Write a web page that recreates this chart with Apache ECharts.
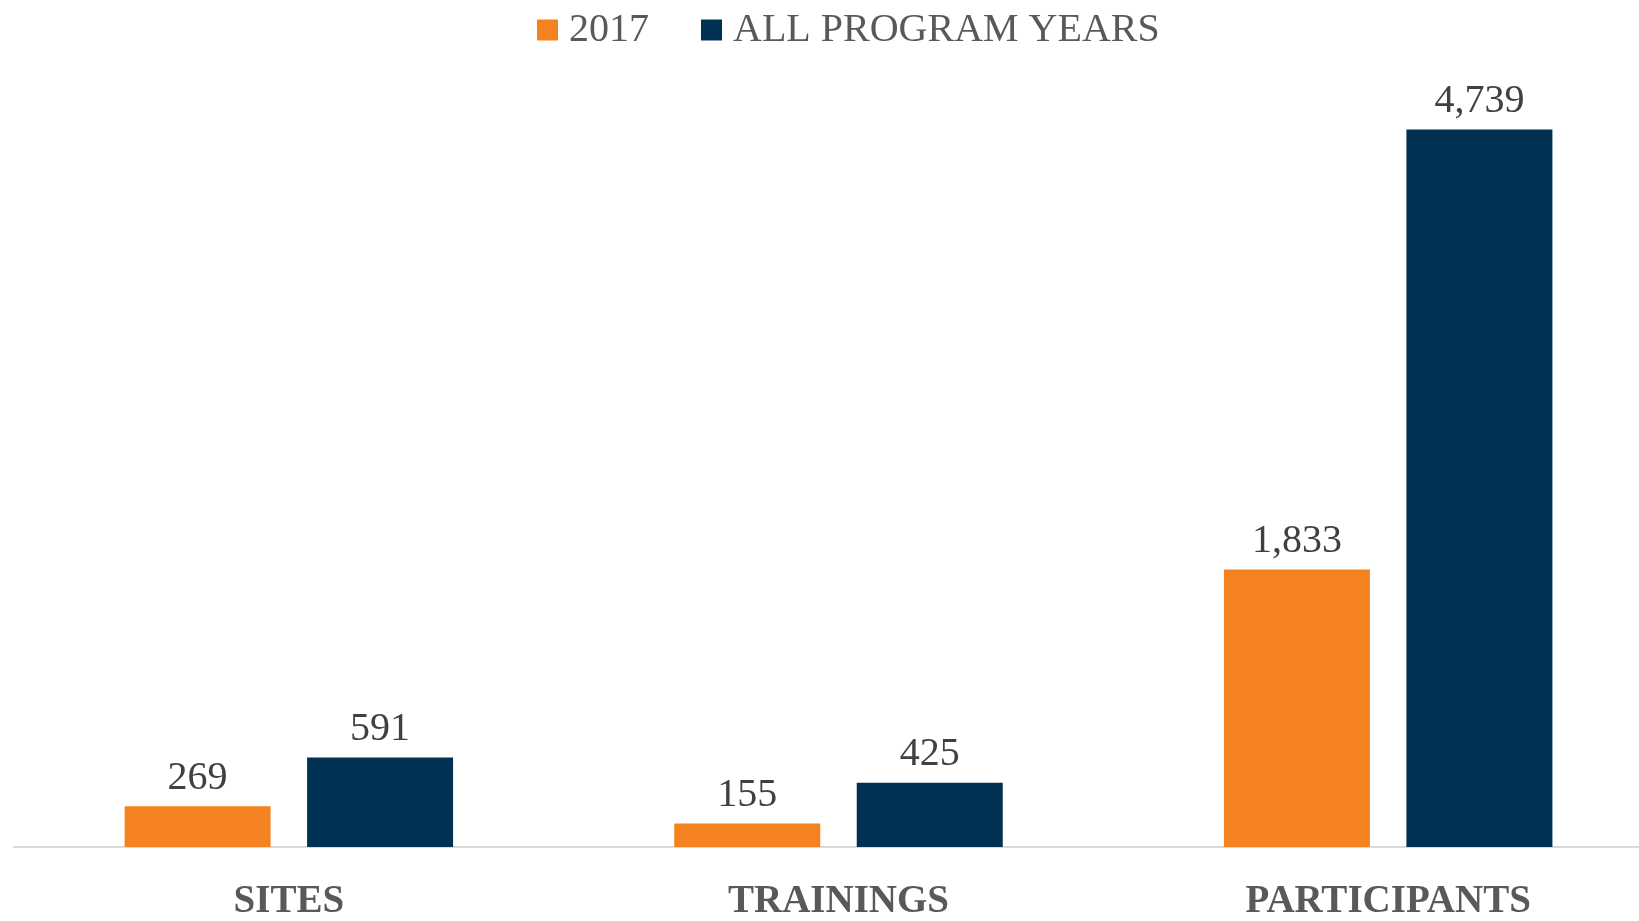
<!DOCTYPE html>
<html>
<head>
<meta charset="utf-8">
<script src="https://cdn.jsdelivr.net/npm/echarts@6/dist/echarts.min.js"></script>
<style>
  html, body { margin: 0; padding: 0; background: #fff; overflow: hidden; }
  /* the plot runs a little past the right edge, as in the reference */
  #main { width: 1663px; height: 921px; }
</style>
</head>
<body>
<div id="main"></div>
<script>
// data
var categories = ['SITES', 'TRAININGS', 'PARTICIPANTS'];
var seriesNames = ['2017', 'ALL PROGRAM YEARS'];
var values2017 = [269, 155, 1833];
var valuesAll = [591, 425, 4739];

var myChart = echarts.init(document.getElementById('main'));
var font = '"Liberation Serif", "DejaVu Serif", serif';

function fmt(p) {
    return p.value.toLocaleString('en-US');
}

var option = {
    animation: false,
    textStyle: { fontFamily: font },
    legend: {
        data: seriesNames,
        left: 532,
        top: 5,
        itemWidth: 21,
        itemHeight: 21,
        itemGap: 52,
        icon: 'rect',
        textStyle: {
            fontFamily: font,
            fontSize: 40,
            color: '#595959',
            padding: [0, 0, 0, 6]
        }
    },
    grid: {
        left: 14,
        right: 0,
        top: 90,
        bottom: 69,
        containLabel: false
    },
    xAxis: {
        type: 'category',
        data: categories,
        axisLine: { lineStyle: { color: '#d9d9d9', width: 2 } },
        axisTick: { show: false },
        axisLabel: {
            margin: 35,
            fontFamily: font,
            fontSize: 39,
            fontWeight: 'bold',
            color: '#595959'
        }
    },
    yAxis: {
        type: 'value',
        min: 0,
        max: 5000,
        show: false,
        splitLine: { show: false }
    },
    series: [
        {
            name: seriesNames[0],
            type: 'bar',
            data: values2017,
            barWidth: 146,
            barGap: '25%',
            itemStyle: { color: '#F58220' },
            label: {
                show: true,
                position: 'top',
                distance: 8,
                fontFamily: font,
                fontSize: 40,
                color: '#404040',
                formatter: fmt
            }
        },
        {
            name: seriesNames[1],
            type: 'bar',
            data: valuesAll,
            barWidth: 146,
            barGap: '25%',
            itemStyle: { color: '#003153' },
            label: {
                show: true,
                position: 'top',
                distance: 8,
                fontFamily: font,
                fontSize: 40,
                color: '#404040',
                formatter: fmt
            }
        }
    ]
};

option && myChart.setOption(option);
</script>
</body>
</html>
